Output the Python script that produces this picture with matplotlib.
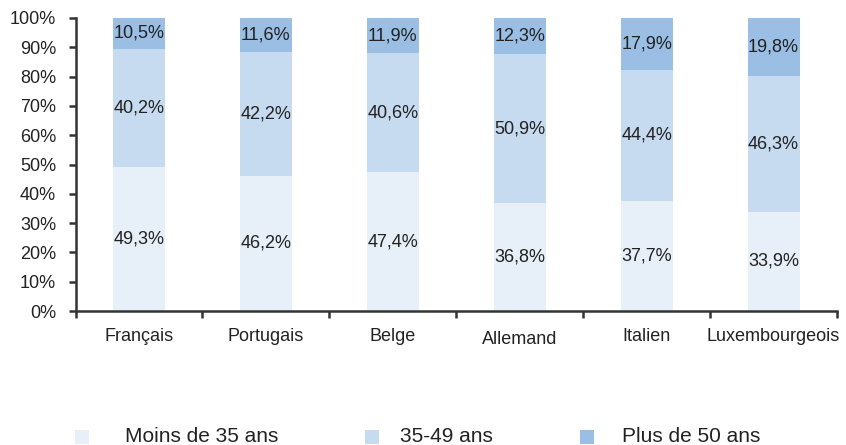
import matplotlib
matplotlib.use("Agg")
import matplotlib.pyplot as plt
from matplotlib.patches import Rectangle
import numpy as np

plt.rcParams['font.family'] = ['Liberation Sans', 'DejaVu Sans']

categories = ["Français", "Portugais", "Belge", "Allemand", "Italien", "Luxembourgeois"]
moins35 = [49.3, 46.2, 47.4, 36.8, 37.7, 33.9]
age35_49 = [40.2, 42.2, 40.6, 50.9, 44.4, 46.3]
plus50 = [10.5, 11.6, 11.9, 12.3, 17.9, 19.8]
series_names = ["Moins de 35 ans", "35-49 ans", "Plus de 50 ans"]
colors = ["#E7EFF9", "#C6DAF0", "#9ABEE4"]

W, H = 846, 445
fig = plt.figure(figsize=(W / 100, H / 100), dpi=100)
ax = fig.add_axes([75.5 / W, 1 - 311 / H, (837 - 75.5) / W, (311 - 18) / H])

x = np.arange(len(categories))
series = [moins35, age35_49, plus50]
bottom = np.zeros(len(categories))
for vals, col in zip(series, colors):
    vals = np.array(vals)
    ax.bar(x, vals, 0.41, bottom=bottom, color=col, edgecolor='none', zorder=2)
    for xi, b, v in zip(x, bottom, vals):
        ax.text(xi, b + v / 2, f"{v:.1f}".replace('.', ',') + "%", ha='center', va='center',
                fontsize=13, color='#222222', zorder=3)
    bottom += vals

ax.set_xlim(-0.5, len(categories) - 0.5)
ax.set_ylim(0, 100)
ax.set_yticks(np.arange(0, 101, 10))
ax.set_yticklabels([f"{v}%" for v in range(0, 101, 10)], fontsize=13, color='#222222')
ax.set_xticks(np.arange(-0.5, len(categories), 1.0))
ax.set_xticklabels([])
ax.set_xticks(x, minor=True)
ax.set_xticklabels(categories, minor=True, fontsize=13, color='#222222')
ax.tick_params(axis='x', which='minor', length=0, pad=12)
ax.tick_params(axis='x', which='major', length=5, width=1.8, color='#333333', direction='out')
ax.tick_params(axis='y', length=5, width=1.8, color='#333333', pad=9)
for lbl in ax.get_xticklabels(minor=True):
    if lbl.get_text() == "Allemand":
        lbl.set_y(-0.012)

for s in ['top', 'right']:
    ax.spines[s].set_visible(False)
for s in ['left', 'bottom']:
    ax.spines[s].set_linewidth(1.8)
    ax.spines[s].set_color('#333333')

# legend (manual placement)
sq_x = [75, 365, 580]
tx_x = [125, 400, 622]
sq = 14
yc = 436.5
for name, col, sx, tx in zip(series_names, colors, sq_x, tx_x):
    fig.patches.append(Rectangle((sx / W, 1 - (yc + sq / 2) / H), sq / W, sq / H,
                                 transform=fig.transFigure, facecolor=col, edgecolor='none'))
    fig.text(tx / W, 1 - yc / H, name, ha='left', va='center', fontsize=15, color='#222222')

fig.savefig("out.png", dpi=100)
